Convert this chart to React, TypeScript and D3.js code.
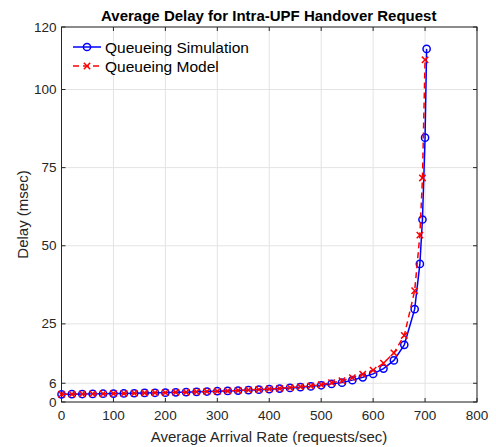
import React from "react";
import * as d3 from "d3";

const simRates = [0, 20, 40, 60, 80, 100, 120, 140, 160, 180, 200, 220, 240, 260, 280, 300, 320, 340, 360, 380, 400, 420, 440, 460, 480, 500, 520, 540, 560, 580, 600, 620, 640, 660, 680, 690, 695, 700, 703];
const simDelay = [2.45, 2.5, 2.55, 2.6, 2.65, 2.7, 2.75, 2.8, 2.9, 2.95, 3.0, 3.1, 3.15, 3.25, 3.35, 3.45, 3.55, 3.65, 3.8, 3.95, 4.1, 4.3, 4.5, 4.75, 5.0, 5.35, 5.8, 6.2, 7.0, 7.9, 9.0, 10.7, 13.3, 18.3, 29.7, 44.2, 58.4, 84.6, 113];
const modelRates = [0, 20, 40, 60, 80, 100, 120, 140, 160, 180, 200, 220, 240, 260, 280, 300, 320, 340, 360, 380, 400, 420, 440, 460, 480, 500, 520, 540, 560, 580, 600, 620, 640, 660, 680, 690, 695, 700];
const modelDelay = [2.45, 2.5, 2.55, 2.6, 2.65, 2.7, 2.75, 2.8, 2.9, 2.95, 3.0, 3.1, 3.15, 3.25, 3.35, 3.45, 3.55, 3.7, 3.85, 4.0, 4.15, 4.35, 4.6, 4.85, 5.15, 5.5, 6.2, 6.8, 7.8, 8.9, 10.2, 12.4, 15.7, 21.3, 35.6, 53.4, 71.7, 109.5];
const xTicks = [0, 100, 200, 300, 400, 500, 600, 700, 800];
const yTicks = [0, 6, 25, 50, 75, 100, 120];
const legendLabels = ["Queueing Simulation", "Queueing Model"];

const W = 496, H = 447;
const L = 61.5, R = 477, T = 27, B = 402;
const FONT = "'Liberation Sans', Arial, sans-serif";
const AX = "#262626";

export default function App() {
  const x = d3.scaleLinear().domain([0, 800]).range([L, R]);
  const y = d3.scaleLinear().domain([0, 120]).range([B, T]);
  const line = d3.line<[number, number]>().x(d => x(d[0])).y(d => y(d[1]));
  const sim: [number, number][] = simRates.map((r, i) => [r, simDelay[i]]);
  const mod: [number, number][] = modelRates.map((r, i) => [r, modelDelay[i]]);
  const xm = 3.2;
  const cross = (cx: number, cy: number, k: string) => (
    <path key={k} d={`M${cx - xm},${cy - xm}L${cx + xm},${cy + xm}M${cx - xm},${cy + xm}L${cx + xm},${cy - xm}`} stroke="#ff0000" strokeWidth={1.5} fill="none" />
  );
  return (
    <svg width={W} height={H} style={{ position: "absolute", left: 0, top: 0, background: "#fff" }} fontFamily={FONT}>
      <rect x={0} y={0} width={W} height={H} fill="#fff" />
      {xTicks.map(t => (
        <line key={"gx" + t} x1={x(t)} x2={x(t)} y1={T} y2={B} stroke="#e3e3e3" strokeWidth={1} />
      ))}
      {yTicks.map(t => (
        <line key={"gy" + t} x1={L} x2={R} y1={y(t)} y2={y(t)} stroke="#e3e3e3" strokeWidth={1} />
      ))}
      <path d={line(sim) || ""} fill="none" stroke="#0000ff" strokeWidth={1.5} />
      {sim.map((d, i) => (
        <circle key={"c" + i} cx={x(d[0])} cy={y(d[1])} r={3.6} fill="none" stroke="#0000ff" strokeWidth={1.5} />
      ))}
      <path d={line(mod) || ""} fill="none" stroke="#ff0000" strokeWidth={1.5} strokeDasharray="6,4" />
      {mod.map((d, i) => cross(x(d[0]), y(d[1]), "m" + i))}
      <rect x={L} y={T} width={R - L} height={B - T} fill="none" stroke={AX} strokeWidth={1} />
      {xTicks.map(t => (
        <g key={"tx" + t}>
          <line x1={x(t)} x2={x(t)} y1={B} y2={B - 4} stroke={AX} />
          <line x1={x(t)} x2={x(t)} y1={T} y2={T + 4} stroke={AX} />
          <text x={x(t)} y={B + 18} textAnchor="middle" fontSize={13.5} fill={AX}>{t}</text>
        </g>
      ))}
      {yTicks.map(t => (
        <g key={"ty" + t}>
          <line x1={L} x2={L + 4} y1={y(t)} y2={y(t)} stroke={AX} />
          <line x1={R} x2={R - 4} y1={y(t)} y2={y(t)} stroke={AX} />
          <text x={L - 5} y={y(t) + 4.5} textAnchor="end" fontSize={13.5} fill={AX}>{t}</text>
        </g>
      ))}
      <text x={(L + R) / 2 - 0.5} y={21} textAnchor="middle" fontSize={15} fontWeight="bold" fill="#000">Average Delay for Intra-UPF Handover Request</text>
      <text x={269} y={442} textAnchor="middle" fontSize={15} fill={AX}>Average Arrival Rate (requests/sec)</text>
      <text transform={`translate(28,${(T + B) / 2}) rotate(-90)`} textAnchor="middle" fontSize={15} fill={AX}>Delay (msec)</text>
      <g>
        <line x1={73} x2={101} y1={47} y2={47} stroke="#0000ff" strokeWidth={1.5} />
        <circle cx={87} cy={47} r={3.6} fill="none" stroke="#0000ff" strokeWidth={1.5} />
        <text x={105} y={52.5} fontSize={15.5} fill="#000">{legendLabels[0]}</text>
        <line x1={73} x2={101} y1={66} y2={66} stroke="#ff0000" strokeWidth={1.5} strokeDasharray="6,4" />
        {cross(87, 66, "lg")}
        <text x={105} y={71.5} fontSize={15.5} fill="#000">{legendLabels[1]}</text>
      </g>
    </svg>
  );
}
